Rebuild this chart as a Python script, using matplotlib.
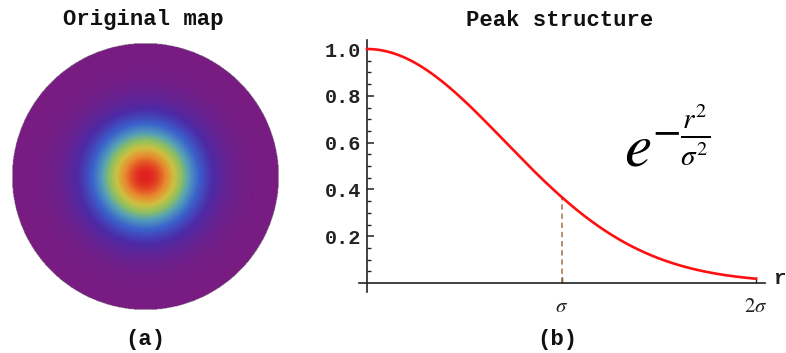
import numpy as np
import matplotlib
matplotlib.use('Agg')
import matplotlib.pyplot as plt
from matplotlib.colors import LinearSegmentedColormap

# peak parameters (sigma = 1 in plot units)
SIGMA = 1.0
R_MAX = 2.0
MAP_SIGMA = 0.39          # peak width relative to disk radius in the map

y_ticks = [0.2, 0.4, 0.6, 0.8, 1.0]
y_tick_labels = ['0.2', '0.4', '0.6', '0.8', '1.0']
r_ticks = [1.0, 2.0]
r_tick_labels = [r'$\sigma$', r'$2\sigma$']

# rainbow-like palette, purple -> red
RAINBOW = [(0.00, '#781c82'), (0.18, '#4d2aa6'), (0.35, '#3a62cc'),
           (0.50, '#55a0b8'), (0.62, '#8cc062'), (0.74, '#cfc040'),
           (0.86, '#e8882e'), (1.00, '#e0201e')]
cmap = LinearSegmentedColormap.from_list('rainbowMap', RAINBOW)

plt.rcParams['mathtext.fontset'] = 'stix'
W, H = 786, 353
fig = plt.figure(figsize=(W / 100, H / 100), dpi=100)

#  =========================================
#  	           Original map
#  =========================================
axMap = fig.add_axes([12 / W, 1 - 311 / H, 267 / W, 269 / H])
grid = np.linspace(-1, 1, 500)
gx, gy = np.meshgrid(grid, grid)
rho = np.sqrt(gx ** 2 + gy ** 2)
val = np.exp(-(rho / MAP_SIGMA) ** 2)
val = np.ma.masked_where(rho > 1, val)
axMap.imshow(val, cmap=cmap, vmin=0, vmax=1, extent=[-1, 1, -1, 1],
             interpolation='bilinear', origin='lower')
axMap.set_xlim(-1, 1); axMap.set_ylim(-1, 1)
axMap.axis('off')

#  =========================================
#  	          Peak structure
#  =========================================
x0, x1 = 359, 765      # pixel span of the x axis
y0, y1 = 40, 292       # pixel span of the y axis
ax = fig.add_axes([x0 / W, 1 - y1 / H, (x1 - x0) / W, (y1 - y0) / H])
pxX = R_MAX / (756 - 367)
pxY = 1.0 / (283 - 49)
ax.set_xlim(-(367 - x0) * pxX, (x1 - 367) * pxX)
ax.set_ylim(-(y1 - 283) * pxY, (283 - y0) * pxY)

r = np.linspace(0, R_MAX, 300)
ax.plot(r, np.exp(-r ** 2 / SIGMA ** 2), color='#ff1010', lw=1.9, zorder=3)
ax.plot([SIGMA, SIGMA], [0, np.exp(-1)], color='#9c7048', lw=1.1,
        linestyle=(0, (3.5, 2.5)), zorder=2)

for side in ['top', 'right']:
    ax.spines[side].set_visible(False)
ax.spines['left'].set_position(('data', 0))
ax.spines['bottom'].set_position(('data', 0))
for side in ['left', 'bottom']:
    ax.spines[side].set_color('#222222'); ax.spines[side].set_linewidth(1.2)

ax.set_yticks(y_ticks)
ax.set_yticklabels(y_tick_labels, family='Liberation Mono', weight='bold',
                   fontsize=14.5, color='#222222')
ax.set_yticks(np.arange(0.05, 1.0, 0.05), minor=True)
ax.tick_params(axis='y', which='major', direction='in', length=5, width=1.1,
               pad=4, color='#222222')
ax.tick_params(axis='y', which='minor', direction='in', length=3, width=1.0,
               color='#222222')
ax.set_xticks(r_ticks)
ax.set_xticklabels(r_tick_labels, fontsize=15, color='#222222')
ax.tick_params(axis='x', direction='in', length=4, width=1.0, pad=9,
               color='#222222')

fig.text(773 / W, 1 - 279 / H, 'r', family='Liberation Mono', weight='bold',
         fontsize=15, ha='left', va='center', color='#222222')
# formula: big e plus the fraction exponent
fig.text(624 / W, 1 - 166 / H, r'$e$', fontsize=44, ha='left',
         va='baseline', color='black')
fig.text(652 / W, 1 - 135 / H, r'$-\frac{r^2}{\sigma^2}$', fontsize=30,
         ha='left', va='center', color='black')

#  =========================================
#  	            Titles / labels
#  =========================================
ttl = dict(family='Liberation Mono', weight='bold', fontsize=16,
           ha='center', va='center', color='#111111')
fig.text(143 / W, 1 - 20 / H, 'Original map', **ttl)
fig.text(560 / W, 1 - 21 / H, 'Peak structure', **ttl)
fig.text(145 / W, 1 - 340 / H, '(a)', **ttl)
fig.text(557 / W, 1 - 340 / H, '(b)', **ttl)

fig.savefig('out.png', dpi=100)
